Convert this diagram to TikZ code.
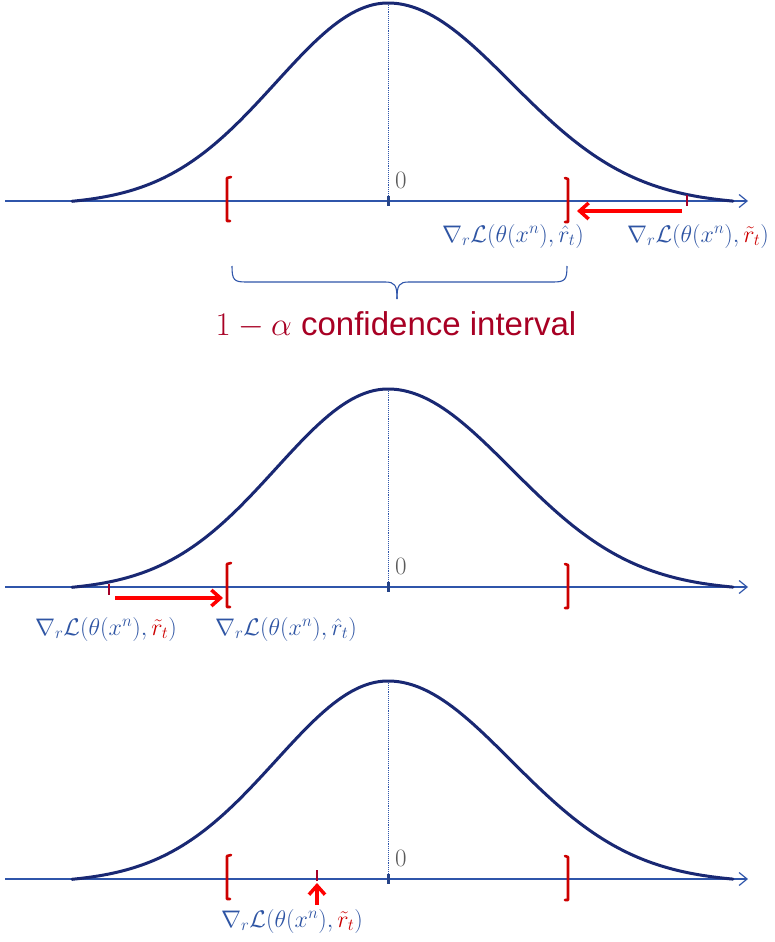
\RequirePackage{fix-cm}
\documentclass[tikz,border=0pt]{standalone}
\usepackage{fontspec}
\newfontfamily\arialish{Liberation Sans}
\usetikzlibrary{arrows.meta}
\definecolor{axisblue}{RGB}{47,85,170}
\definecolor{curvenavy}{RGB}{25,40,115}
\definecolor{labblue}{RGB}{47,85,164}
\definecolor{brred}{RGB}{205,0,0}
\definecolor{tickred}{RGB}{165,0,40}
\definecolor{arrred}{RGB}{255,0,0}
\definecolor{cired}{RGB}{168,0,36}
\definecolor{zerogray}{RGB}{90,90,90}
\tikzset{
  axisline/.style={draw=axisblue,line width=1.2pt,-{Straight Barb[length=8pt,width=13pt,line width=1.2pt]}},
  curveline/.style={draw=curvenavy,line width=3pt,line join=round,line cap=round},
  dotline/.style={draw=axisblue,line width=0.9pt,densely dotted},
  zerotick/.style={draw=axisblue!80!black,line width=3pt},
  bracketline/.style={draw=brred,line width=2.6pt,line join=round,line cap=round},
  redtick/.style={draw=tickred,line width=2.6pt},
  redarrow/.style={draw=arrred,line width=4pt,-{Straight Barb[length=9pt,width=16pt,line width=3.5pt]}},
  zerolab/.style={text=zerogray,font=\fontsize{25}{29}\selectfont,inner sep=0pt},
  lab/.style={text=labblue,font=\fontsize{24}{28}\selectfont,inner sep=0pt,anchor=base},
  bracebox/.style={draw=axisblue,line width=1.1pt},
  citext/.style={text=cired,font=\arialish\fontsize{33}{38}\selectfont,inner sep=0pt,anchor=base}
}
\begin{document}
\begin{tikzpicture}[x=1pt,y=-1pt]
\useasboundingbox (0,0) rectangle (774,942);
\fill[white] (0,0) rectangle (774,942);
\foreach \ay/\p in {201/a,587/b,879/c}{
  \coordinate (axs\p) at (5,\ay);
  \coordinate (axe\p) at (748,\ay);
  \draw[axisline] (axs\p) -- (axe\p);
  \coordinate (top\p) at (388,\ay-198);
  \coordinate (org\p) at (388,\ay);
  \draw[dotline] (top\p) -- (org\p);
  \draw[curveline] plot[domain=-316:0,samples=70] ({388+\x},{\ay-198*(exp(-0.5*(\x/112)*(\x/112))-0.02)/0.98})
     -- plot[domain=0:345,samples=70] ({388+\x},{\ay-198*(exp(-0.5*(\x/123)*(\x/123))-0.02)/0.98});
  \draw[zerotick] (388,\ay-5) -- (388,\ay+5);
  \node[zerolab,anchor=base west] (zero\p) at (395,\ay-13) {0};
  \draw[bracketline] (231,\ay-24) -- (227,\ay-23) -- (227,\ay+20) -- (230,\ay+20);
  \draw[bracketline] (565,\ay-23) -- (568,\ay-22) -- (568,\ay+21) -- (565,\ay+21);
}
% top panel
\draw[redtick] (687,195) -- (687,206);
\coordinate (sa) at (682,211);
\coordinate (ea) at (577,211);
\draw[redarrow] (sa) -- (ea);
\node[lab] (hata) at (513,242) {$\nabla_r\mathcal{L}(\theta(x^n),\hat r_t)$};
\node[lab] (tila) at (698,242) {$\nabla_r\mathcal{L}(\theta(x^n),{\color{brred}\tilde r_t})$};
% brace
\draw[bracebox] (232,266) .. controls (232,280) and (234,282) .. (246,282) -- (385,282) .. controls (395,282) and (397,285) .. (397,299);
\draw[bracebox] (567,266) .. controls (567,280) and (565,282) .. (553,282) -- (409,282) .. controls (399,282) and (397,285) .. (397,299);
\node[citext] (ci) at (396,335) {$1-\alpha$ confidence interval};
% middle panel
\draw[redtick] (109,584) -- (109,595);
\coordinate (sb) at (115,598);
\coordinate (eb) at (223,598);
\draw[redarrow] (sb) -- (eb);
\node[lab] (tilb) at (106,635) {$\nabla_r\mathcal{L}(\theta(x^n),{\color{brred}\tilde r_t})$};
\node[lab] (hatb) at (286,635) {$\nabla_r\mathcal{L}(\theta(x^n),\hat r_t)$};
% bottom panel
\draw[redtick] (317,870) -- (317,881);
\coordinate (sc) at (317,905);
\coordinate (ec) at (317,883);
\draw[redarrow] (sc) -- (ec);
\node[lab] (tilc) at (292,927) {$\nabla_r\mathcal{L}(\theta(x^n),{\color{brred}\tilde r_t})$};
\end{tikzpicture}
\end{document}
